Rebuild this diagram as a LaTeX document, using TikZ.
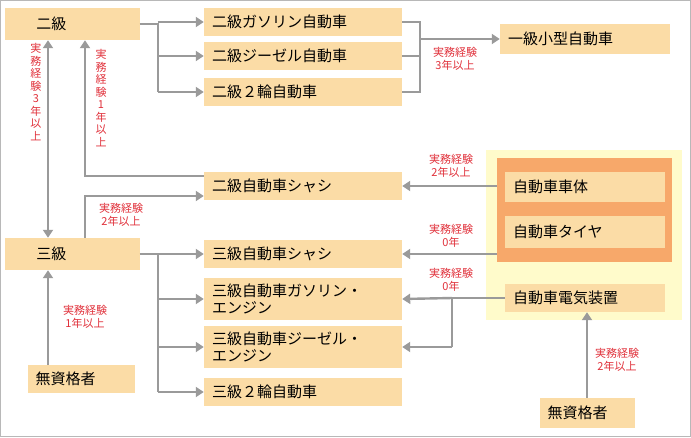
\documentclass[tikz,border=0pt]{standalone}
\usepackage{fontspec}
\newfontfamily\jp{Noto Sans CJK JP}
\usetikzlibrary{arrows.meta}
\usetikzlibrary{calc}
\definecolor{boxfill}{HTML}{FBDCA6}
\definecolor{grp}{HTML}{F7A86A}
\definecolor{zone}{HTML}{FFFBCB}
\definecolor{lbl}{HTML}{E0303A}
\definecolor{lne}{HTML}{9A9A9A}

\begin{document}
\begin{tikzpicture}[x=1pt, y=-1pt]
\tikzset{Box/.style = {fill = boxfill, font = \jp\fontsize{15}{17}\selectfont,
                       inner ysep = 0pt, inner xsep = 8pt, align = left},
         Note/.style = {text = lbl, font = \jp\fontsize{11}{12.5}\selectfont,
                        inner sep = 0pt, align = center},
         Link/.style = {draw = lne, line width = 2.4pt,
                        -{Triangle[length=8pt, width=10pt]}},
         Line/.style = {draw = lne, line width = 2.4pt}}
\draw[lne!70, line width=1pt] (0.5,0.5) rectangle (690.5,436.5);
\useasboundingbox (0,0) rectangle (691,437);
% zones
\fill[zone] (486,150) rectangle (682,320);
\node[fill = grp, minimum width = 175pt, minimum height = 104pt, inner sep = 0pt] (grp) at (584.5,210) {};
% boxes
\node[Box, text width = 119pt, minimum height = 32pt, inner xsep = 8pt] (ni) at (72,24) {\hspace*{24pt}二級};
\node[Box, text width = 119pt, minimum height = 32pt] (san) at (72,254) {\hspace*{24pt}三級};
\node[Box, text width = 182pt, minimum height = 28pt] (niG) at (303,22) {二級ガソリン自動車};
\node[Box, text width = 182pt, minimum height = 28pt] (niD) at (303,56) {二級ジーゼル自動車};
\node[Box, text width = 182pt, minimum height = 28pt] (ni2) at (303,92) {二級２輪自動車};
\node[Box, text width = 154pt, minimum height = 30pt] (ikkyu) at (585,39) {一級小型自動車};
\node[Box, text width = 182pt, minimum height = 28pt] (niC) at (303,186) {二級自動車シャシ};
\node[Box, text width = 182pt, minimum height = 28pt] (sanC) at (303,254) {三級自動車シャシ};
\node[Box, text width = 182pt, minimum height = 42pt] (sanG) at (303,299) {三級自動車ガソリン・\\エンジン};
\node[Box, text width = 182pt, minimum height = 42pt] (sanD) at (303,347) {三級自動車ジーゼル・\\エンジン};
\node[Box, text width = 182pt, minimum height = 28pt] (san2) at (303,392) {三級２輪自動車};
\node[Box, text width = 144pt, minimum height = 30pt] (body) at (585,187) {自動車車体};
\node[Box, text width = 144pt, minimum height = 32pt] (tire) at (585,232) {自動車タイヤ};
\node[Box, text width = 144pt, minimum height = 28pt] (elec) at (585,298) {自動車電気装置};
\node[Box, text width = 91pt, minimum height = 28pt] (muL) at (81,379) {無資格者};
\node[Box, text width = 79pt, minimum height = 30pt] (muR) at (587,413) {無資格者};
% second grade branches
\coordinate (a) at ($(ni.east)+(18,0)$);
\draw[Line] (ni.east) -- (a) -- (a |- ni2.west);
\draw[Link] (a |- niG.west) -- (niG.west);
\draw[Link] (a |- niD.west) -- (niD.west);
\draw[Link] (a |- ni2.west) -- (ni2.west);
\coordinate (b) at ($(niG.east)+(18,0)$);
\draw[Line] (niG.east) -- (b) -- (b |- ni2.east) -- (ni2.east);
\draw[Line] (niD.east) -- (b |- niD.east);
\draw[Link] (b |- ikkyu.west) -- (ikkyu.west);
\node[Note] (n1) at (455,59) {実務経験\\3年以上};
% third grade branches
\coordinate (c) at ($(san.east)+(18,0)$);
\draw[Line] (san.east) -- (c) -- (c |- san2.west);
\draw[Link] (c |- sanC.west) -- (sanC.west);
\draw[Link] (c |- sanG.west) -- (sanG.west);
\draw[Link] (c |- sanD.west) -- (sanD.west);
\draw[Link] (c |- san2.west) -- (san2.west);
% left vertical links
\coordinate (g) at (48,0);
\draw[Link, {Triangle[length=8pt, width=10pt]}-{Triangle[length=8pt, width=10pt]}] (ni.south -| g) -- (san.north -| g);
\node[Note] (n2) at (36,92) {実\\務\\経\\験\\3\\年\\以\\上};
\coordinate (d) at (85,176);
\draw[Link] ($(niC.west)+(0,-10)$) -- (d) -- (ni.south -| d);
\node[Note] (n3) at (101,98) {実\\務\\経\\験\\1\\年\\以\\上};
\coordinate (e) at (85,196);
\draw[Link] (san.north -| e) -- (e) -- ($(niC.west)+(0,10)$);
\node[Note] (n4) at (121,215) {実務経験\\2年以上};
\draw[Link] (muL.north -| g) -- (san.south -| g);
\node[Note] (n5) at (85,317) {実務経験\\1年以上};
% right side
\draw[Link] (grp.west |- niC.east) -- (niC.east);
\node[Note] (n6) at (451,166) {実務経験\\2年以上};
\draw[Link] (grp.west |- sanC.east) -- (sanC.east);
\node[Note] (n7) at (451,236) {実務経験\\0年};
\coordinate (f) at (452,298);
\draw[Line] (elec.west) -- (f) -- (f |- sanD.east);
\draw[Link] (f) -- (sanG.east);
\draw[Link] (f |- sanD.east) -- (sanD.east);
\node[Note] (n8) at (451,280) {実務経験\\0年};
\draw[Link] (muR.north) -- (elec.south -| muR.north);
\node[Note] (n9) at (617,360) {実務経験\\2年以上};
\end{tikzpicture}
\end{document}
